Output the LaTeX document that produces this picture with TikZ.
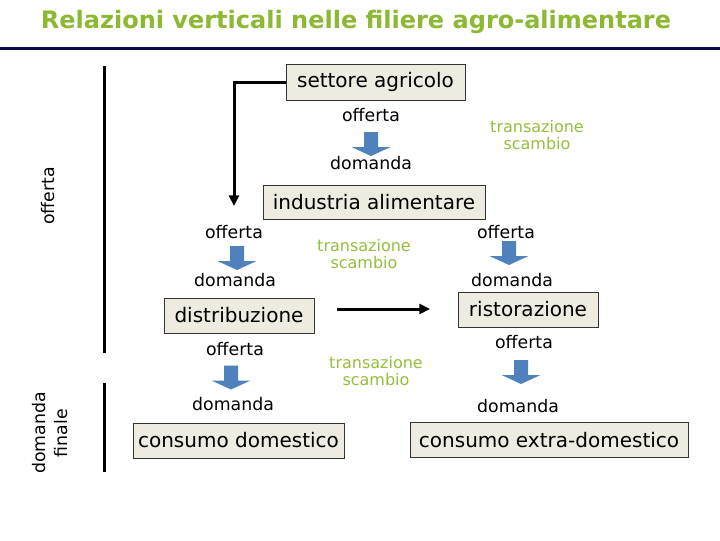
\documentclass[tikz,border=0pt]{standalone}
\usepackage{fontspec}
\setmainfont{DejaVu Sans}
\usetikzlibrary{arrows.meta}
\definecolor{titlegreen}{RGB}{140,184,50}
\definecolor{txgreen}{RGB}{150,190,60}
\definecolor{navy}{RGB}{10,10,80}
\definecolor{boxfill}{RGB}{238,236,225}
\definecolor{arrowblue}{RGB}{79,129,189}
\begin{document}
\begin{tikzpicture}[x=0.75pt,y=-0.75pt,
 box/.style={draw=black!80, line width=0.75pt, fill=boxfill, inner sep=0pt, minimum height=26.25pt, font=\fontsize{15}{18}\selectfont},
 lbl/.style={font=\fontsize{13}{17}\selectfont, inner sep=0pt},
 tx/.style={font=\fontsize{12}{12.5}\selectfont, text=txgreen, align=center, inner sep=0pt},
 flow/.style={line width=2.25pt, -{Triangle[length=8pt,width=7.5pt]}},
 bar/.style={line width=2.25pt},
 bluearrow/.pic={\fill[arrowblue] (-7,-12) -- (7,-12) -- (7,3) -- (19.5,3) -- (0,12) -- (-19.5,3) -- (-7,3) -- cycle;}
]
\fill[white] (0,0) rectangle (720,540);
\useasboundingbox (0,0) rectangle (720,540);

\node[font=\fontsize{18}{20}\selectfont\bfseries, text=titlegreen] (title) at (356,22) {Relazioni verticali nelle filiere agro-alimentare};
\coordinate (r1) at (0,48); \coordinate (r2) at (720,48);
\draw[navy, line width=2.25pt] (r1) -- (r2);

\node[box, minimum width=134.25pt, minimum height=27pt] (agr) at (375.5,82) {settore agricolo};
\node[lbl] (o1) at (371,115) {offerta};
\pic at (371,144) {bluearrow};
\node[lbl] (d1) at (371,163) {domanda};
\node[tx] (t1) at (537,135) {transazione\\scambio};
\node[box, minimum width=166.5pt, minimum height=25.5pt] (ind) at (374,202) {industria alimentare};

\node[lbl] (o2) at (234,232) {offerta};
\pic at (237,258) {bluearrow};
\node[lbl] (d2) at (235,280) {domanda};
\node[tx] (t2) at (364,254) {transazione\\scambio};
\node[lbl] (o3) at (506,232) {offerta};
\pic at (509,253) {bluearrow};
\node[lbl] (d3) at (512,280) {domanda};
\node[box, minimum width=112.5pt] (dis) at (239,315.5) {distribuzione};
\node[box, minimum width=105pt] (ris) at (528,309.5) {ristorazione};

\node[lbl] (o4) at (235,349) {offerta};
\pic at (231,377.5) {bluearrow};
\node[lbl] (d4) at (233,404) {domanda};
\node[tx] (t3) at (376,371) {transazione\\scambio};
\node[lbl] (o5) at (524,342) {offerta};
\pic at (521,372) {bluearrow};
\node[lbl] (d5) at (518,406) {domanda};
\node[box, minimum width=158.25pt] (cd) at (238.5,440.5) {consumo domestico};
\node[box, minimum width=208.5pt] (ce) at (549,440) {consumo extra-domestico};

\node[lbl, rotate=90] (lo) at (48.5,196) {offerta};
\node[lbl, rotate=90, align=center] (ldf) at (50,433) {domanda\\finale};

\coordinate (fa) at (234,206);
\draw[flow] (agr.west) -| (fa);
\coordinate (ha) at (337,309); \coordinate (hb) at (430,309);
\draw[flow] (ha) -- (hb);
\coordinate (b1) at (104,66); \coordinate (b2) at (104,353);
\coordinate (b3) at (104,383); \coordinate (b4) at (104,472);
\draw[bar] (b1) -- (b2);
\draw[bar] (b3) -- (b4);
\end{tikzpicture}
\end{document}
